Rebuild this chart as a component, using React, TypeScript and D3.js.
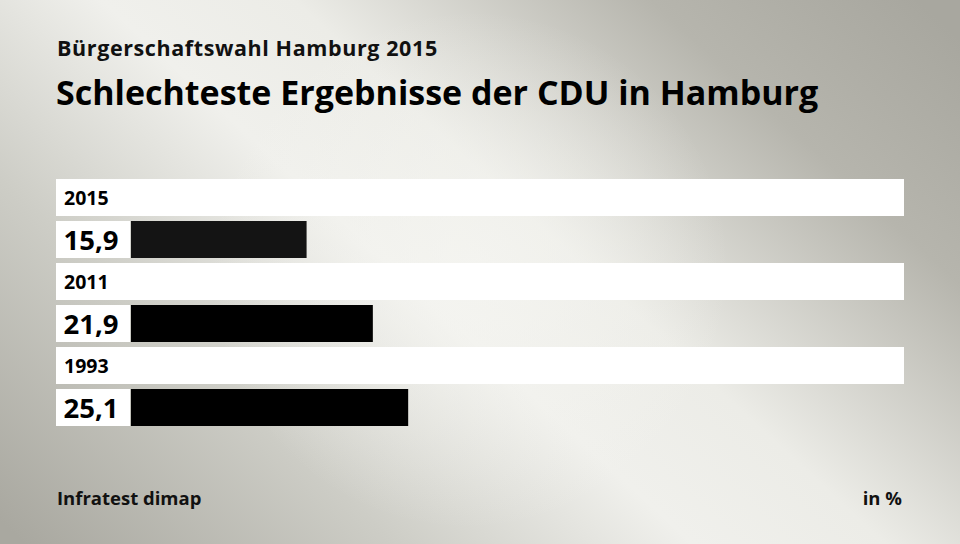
import React from "react";
import * as d3 from "d3";

const categories = ["2015", "2011", "1993"];
const values = [15.9, 21.9, 25.1];
const valueLabels = ["15,9", "21,9", "25,1"];
const barColors = ["#141414", "#000000", "#000000"];

const W = 960;
const H = 544;

export default function App() {
  const x = d3.scaleLinear().domain([0, 70]).range([131, 904]);
  const y = d3.scaleBand<string>().domain(categories).range([179, 431]).paddingInner(0);
  const font = "'Open Sans', Lato, sans-serif";

  return (
    <svg width={W} height={H} style={{ position: "absolute", left: 0, top: 0 }} fontFamily={font}>
      <defs>
        <linearGradient id="bg" x1="820" y1="-90" x2="140" y2="650" gradientUnits="userSpaceOnUse">
          <stop offset="0" stopColor="#a8a79f" />
          <stop offset="0.18" stopColor="#b6b5ad" />
          <stop offset="0.42" stopColor="#ecece7" />
          <stop offset="0.55" stopColor="#f0f0ec" />
          <stop offset="0.75" stopColor="#cdcdc6" />
          <stop offset="1" stopColor="#a9a8a0" />
        </linearGradient>
        <radialGradient id="hl" cx="470" cy="270" r="260" gradientUnits="userSpaceOnUse">
          <stop offset="0" stopColor="#f6f6f2" stopOpacity="0.7" />
          <stop offset="1" stopColor="#f6f6f2" stopOpacity="0" />
        </radialGradient>
      </defs>
      <rect x={0} y={0} width={W} height={H} fill="url(#bg)" />
      <rect x={0} y={0} width={W} height={H} fill="url(#hl)" />
      <text x={57} y={56} fontSize={21.5} letterSpacing={0.6} fontWeight={700} fill="#111">Bürgerschaftswahl Hamburg 2015</text>
      <text x={56} y={105} fontSize={34} fontWeight={700} fill="#000">Schlechteste Ergebnisse der CDU in Hamburg</text>
      {categories.map((c, i) => {
        const y0 = y(c) as number;
        return (
          <g key={c}>
            <rect x={56} y={y0} width={904 - 56} height={37} fill="#fff" />
            <text x={64} y={y0 + 26} fontSize={19.5} fontWeight={700} fill="#000">{c}</text>
            <rect x={56} y={y0 + 42} width={74} height={37} fill="#fff" />
            <text x={63.5} y={y0 + 71} fontSize={27.5} fontWeight={700} fill="#000">{valueLabels[i]}</text>
            <rect x={x(0)} y={y0 + 42} width={x(values[i]) - x(0)} height={37} fill={barColors[i]} />
          </g>
        );
      })}
      <text x={57} y={505} fontSize={18.5} fontWeight={700} fill="#111">Infratest dimap</text>
      <text x={902} y={505} fontSize={18.5} fontWeight={700} fill="#111" textAnchor="end">in %</text>
    </svg>
  );
}
